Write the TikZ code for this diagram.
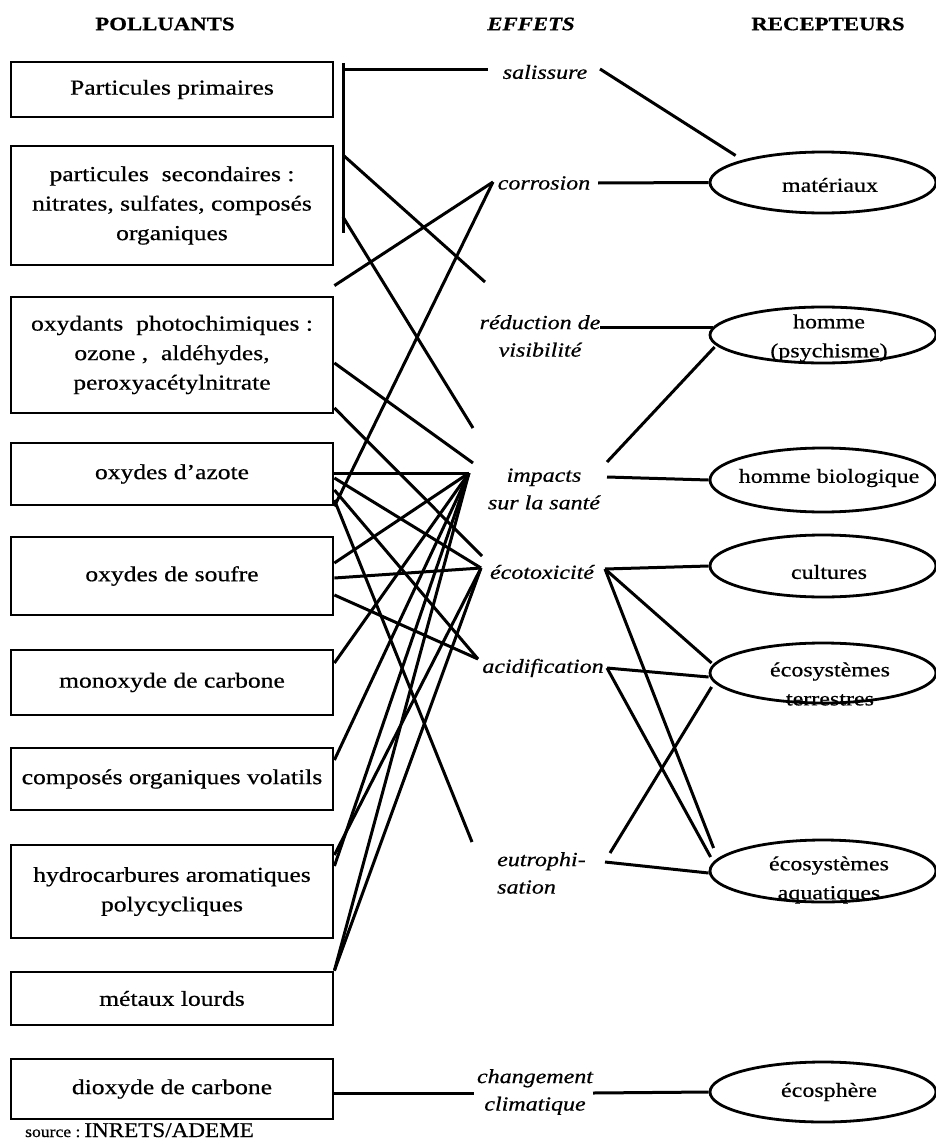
\documentclass[tikz,border=0pt]{standalone}
\usepackage{fontspec}
\usetikzlibrary{shapes.geometric}
\setmainfont[FakeStretch=1.2,FakeBold=0.6]{Liberation Serif}
\newfontfamily\srcfont[FakeStretch=1.1,FakeBold=0.6]{Liberation Serif}
\begin{document}
\begin{tikzpicture}[x=1pt,y=-1pt,
  pol/.style={draw,line width=2.8pt,minimum width=322pt,inner sep=2pt,align=center,
              font=\fontsize{21.3}{29.5}\selectfont},
  rec/.style={draw,ellipse,line width=2.8pt,minimum width=226pt,inner sep=0pt},
  rectext/.style={font=\fontsize{20}{29}\selectfont,align=center,inner sep=0pt},
  eff/.style={font=\fontsize{20}{27.5}\selectfont\itshape,align=center,inner sep=0pt},
  head/.style={font=\fontsize{19}{22}\selectfont\bfseries,inner sep=0pt},
  link/.style={line width=3pt}]
\useasboundingbox (0,0) rectangle (935,1140);

% column headings
\node[head] (hPol) at (165,24) {POLLUANTS};
\node[head,font=\fontsize{19}{22}\selectfont\bfseries\itshape] (hEff) at (531,24) {EFFETS};
\node[head] (hRec) at (828,24) {RECEPTEURS};

% pollutants
\node[pol,minimum height=55pt]  (b1)  at (172,89.5)  {Particules primaires};
\node[pol,minimum height=119pt] (b2)  at (172,205.5) {particules\ \ secondaires :\\nitrates, sulfates, composés\\organiques};
\node[pol,minimum height=116pt] (b3)  at (172,355)   {oxydants\ \ photochimiques :\\ozone ,\ \ aldéhydes,\\peroxyacétylnitrate};
\node[pol,minimum height=62pt]  (b4)  at (172,474)   {oxydes d’azote};
\node[pol,minimum height=78pt]  (b5)  at (172,576)   {oxydes de soufre};
\node[pol,minimum height=65pt]  (b6)  at (172,682.5) {monoxyde de carbone};
\node[pol,minimum height=62pt]  (b7)  at (172,779)   {composés organiques volatils};
\node[pol,minimum height=93pt]  (b8)  at (172,891.5) {hydrocarbures aromatiques\\polycycliques};
\node[pol,minimum height=53pt]  (b9)  at (172,998.5) {métaux lourds};
\node[pol,minimum height=60pt]  (b10) at (172,1089)  {dioxyde de carbone};
\node[anchor=base west,inner sep=0pt] (src) at (25,1137)
  {{\srcfont\fontsize{16}{16}\selectfont source :} {\srcfont\fontsize{21}{21}\selectfont INRETS/ADEME}};

% effects
\node[eff] (sal)  at (545,72)   {salissure};
\node[eff] (cor)  at (544,183)  {corrosion};
\node[eff] (red)  at (540,336)  {réduction de\\visibilité};
\node[eff] (imp)  at (544,489)  {impacts\\sur la santé};
\node[eff] (eco)  at (542,572)  {écotoxicité};
\node[eff] (acid) at (543,668)  {acidification};
\node[eff,align=left,anchor=west] (eut) at (497,873) {eutrophi-\\sation};
\node[eff] (chg)  at (535,1092) {changement\\climatique};

% receptors
\node[rec,minimum height=61pt] (mat)  at (823,182.5) {};
\node[rec,minimum height=56pt] (psy)  at (823,335)   {};
\node[rec,minimum height=64pt] (bio)  at (823,480)   {};
\node[rec,minimum height=62pt] (cult) at (823,566)   {};
\node[rec,minimum height=60pt] (terr) at (823,673)   {};
\node[rec,minimum height=62pt] (aqua) at (823,871)   {};
\node[rec,minimum height=60pt] (sph)  at (823,1092)  {};
\node[rectext] (matT)  at (830,185)  {matériaux};
\node[rectext] (psyT)  at (829,338)  {homme\\(psychisme)};
\node[rectext] (bioT)  at (829,478)  {homme biologique};
\node[rectext] (cultT) at (829,572)  {cultures};
\node[rectext] (terrT) at (830,684)  {écosystèmes\\terrestres};
\node[rectext] (aquaT) at (829,880)  {écosystèmes\\aquatiques};
\node[rectext] (sphT)  at (829,1092) {écosphère};

% attachment points beside the effect labels
\coordinate (barT)  at (343,63);
\coordinate (barB)  at (343,233);
\coordinate (salL)  at (488,70);
\coordinate (salR)  at (600,69);
\coordinate (corL)  at (493,182);
\coordinate (corR)  at (598,183);
\coordinate (redL)  at (485,282);
\coordinate (redR)  at (600,327);
\coordinate (impL0) at (473,428);
\coordinate (impL1) at (473,463);
\coordinate (impL)  at (469,473);
\coordinate (impR1) at (607,462);
\coordinate (impR2) at (607,477);
\coordinate (ecoL)  at (481,568);
\coordinate (ecoL3) at (482,556);
\coordinate (ecoR)  at (605,569);
\coordinate (acidL) at (478,659);
\coordinate (acidR) at (607,668);
\coordinate (eutL)  at (472,842);
\coordinate (eutR1) at (610,853);
\coordinate (eutR2) at (605,862);
\coordinate (chgL)  at (474,1093);
\coordinate (chgR)  at (593,1093);

% particle bracket
\draw[link] (barT) -- (barB);
\draw[link] (barT |- salL) -- (salL);
\draw[link] (barT |- 0,155) -- (redL);
\draw[link] (barT |- 0,217) -- (impL0);

% pollutants to effects
\draw[link] ([yshift=10pt]b3.north east) -- (corL);
\draw[link] (b4.south east) -- (corL);
\draw[link] (b3.east |- 0,363) -- (impL1);
\draw[link] (b3.east |- 0,408) -- (ecoL3);
\draw[link] (b4.east |- impL) -- (impL);
\draw[link] (b4.east |- 0,478) -- (ecoL);
\draw[link] (b4.east |- 0,490) -- (acidL);
\draw[link] (b4.east |- 0,500) -- (eutL);
\draw[link] (b5.east |- 0,563) -- (impL);
\draw[link] (b5.east |- 0,578) -- (ecoL);
\draw[link] (b5.east |- 0,595) -- (acidL);
\draw[link] (b6.east |- 0,663) -- (impL);
\draw[link] (b7.east |- 0,760) -- (impL);
\draw[link] (b8.east |- 0,855) -- (ecoL);
\draw[link] (b8.east |- 0,866) -- (impL);
\draw[link] (b9.north east) -- (impL);
\draw[link] (b9.north east) -- (ecoL);
\draw[link] (b10.east |- chgL) -- (chgL);

% effects to receptors
\draw[link] (salR) -- ([xshift=27pt,yshift=27pt]mat.west);
\draw[link] (corR) -- (mat.west);
\draw[link] (redR) -- ([xshift=4pt,yshift=8pt]psy.west);
\draw[link] (impR1) -- ([xshift=6pt,yshift=-12pt]psy.west);
\draw[link] (impR2) -- (bio.west);
\draw[link] (ecoR) -- (cult.west);
\draw[link] (ecoR) -- ([xshift=3pt,yshift=10pt]terr.west);
\draw[link] (ecoR) -- ([xshift=5pt,yshift=23pt]aqua.west);
\draw[link] (acidR) -- ([yshift=-4pt]terr.west);
\draw[link] (acidR) -- ([xshift=2pt,yshift=14pt]aqua.west);
\draw[link] (eutR1) -- ([xshift=3pt,yshift=-14pt]terr.west);
\draw[link] (eutR2) -- ([yshift=-2pt]aqua.west);
\draw[link] (chgR) -- (sph.west);
\end{tikzpicture}
\end{document}
